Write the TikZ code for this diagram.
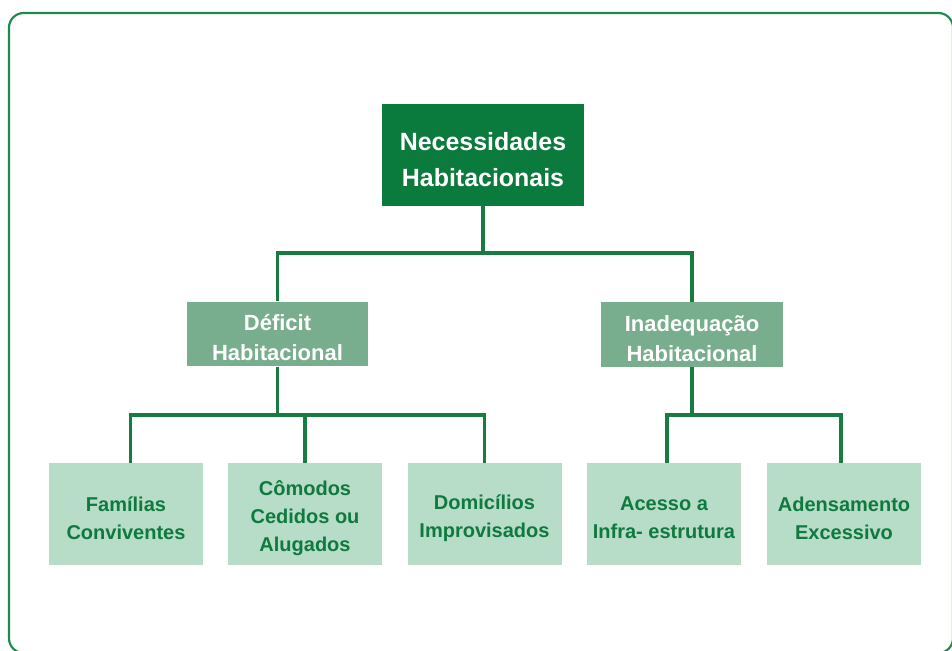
\documentclass[tikz,border=0pt]{standalone}
\usepackage{fontspec}
\setmainfont{Liberation Sans}
\definecolor{topfill}{HTML}{0B7A3D}
\definecolor{midfill}{HTML}{78AD8D}
\definecolor{lowfill}{HTML}{B7DCC7}
\definecolor{lowtext}{HTML}{0F7A3F}
\definecolor{linecol}{HTML}{187C42}
\definecolor{framecol}{HTML}{1E8A4E}
\begin{document}
\begin{tikzpicture}[x=0.75pt,y=-0.75pt,
  topbox/.style={fill=topfill,inner sep=0pt,minimum width=151.5pt,minimum height=76.5pt},
  toptext/.style={text=white,inner sep=0pt,align=center,font=\bfseries\fontsize{18.7}{27}\selectfont},
  midbox/.style={fill=midfill,inner sep=0pt,minimum width=136pt,minimum height=48.5pt},
  midtext/.style={text=white,inner sep=0pt,align=center,font=\bfseries\fontsize{16.5}{22.5}\selectfont},
  lowbox/.style={fill=lowfill,inner sep=0pt,minimum width=115.5pt,minimum height=76.5pt},
  lowtext/.style={text=lowtext,inner sep=0pt,align=center,font=\bfseries\fontsize{15}{21}\selectfont},
  link/.style={draw=linecol,line width=2.4pt},
  frame/.style={draw=framecol,line width=1.6pt,rounded corners=11pt}]
\useasboundingbox (0,0) rectangle (952,650);
\draw[frame] (9,13) rectangle (953,653);

\node[topbox] (top) at (483,155) {};
\node[toptext] (topt) at ([yshift=-3.5pt]top.center) {Necessidades\\Habitacionais};
\node[midbox] (def) at (277.5,334) {};
\node[midtext] (deft) at ([yshift=-3pt]def.center) {Déficit\\Habitacional};
\node[midbox] (ina) at (692,334.5) {};
\node[midtext] (inat) at ([yshift=-3pt]ina.center) {Inadequação\\Habitacional};

\node[lowbox] (fam) at (126,514) {};
\node[lowtext] (famt) at ([yshift=-3pt]fam.center) {Famílias\\Conviventes};
\node[lowbox] (com) at (305,514) {};
\node[lowtext] (comt) at ([yshift=-3pt]com.center) {Cômodos\\Cedidos ou\\Alugados};
\node[lowbox] (dom) at (484.5,514) {};
\node[lowtext] (domt) at ([yshift=-3pt]dom.center) {Domicílios\\Improvisados};
\node[lowbox] (ace) at (664,514) {};
\node[lowtext] (acet) at ([yshift=-3pt]ace.center) {Acesso a\\Infra- estrutura};
\node[lowbox] (ade) at (844,514) {};
\node[lowtext] (adet) at ([yshift=-3pt]ade.center) {Adensamento\\Excessivo};

\coordinate (jtop) at (483,253);
\coordinate (jdef) at (277.5,415);
\coordinate (jina) at (692,415);

\draw[link] (top.south) -- (jtop);
\draw[link] (jtop) -| (def.north);
\draw[link] (jtop) -| (ina.north);

\draw[link] (def.south) -- (jdef);
\draw[link] (jdef) -| ([xshift=3.5pt]fam.north);
\draw[link] (jdef) -| (com.north);
\draw[link] (jdef) -| (dom.north);

\draw[link] (ina.south) -- (jina);
\draw[link] (jina) -| ([xshift=2.2pt]ace.north);
\draw[link] (jina) -| ([xshift=-2.2pt]ade.north);
\end{tikzpicture}
\end{document}
